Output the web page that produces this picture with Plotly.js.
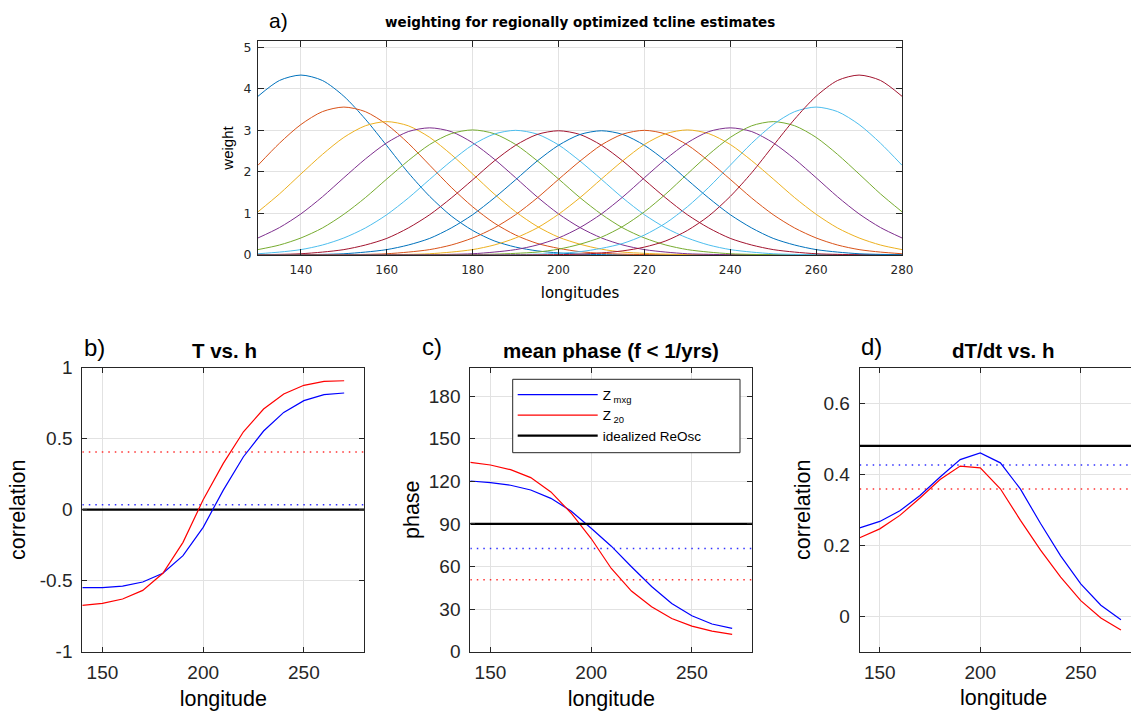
<!DOCTYPE html>
<html><head><meta charset="utf-8">
<script src="https://cdn.plot.ly/plotly-3.0.1.min.js"></script>
<style>html,body{margin:0;padding:0;background:#fff}#chart{width:1131px;height:711px}</style>
</head><body><div id="chart"></div>
<script>
// ---------- panel a data ----------
const lonA = [130,135,140,145,150,155,160,165,170,175,180,185,190,195,200,205,210,215,220,225,230,235,240,245,250,255,260,265,270,275,280];
const w140 = [3.82,4.20,4.33,4.20,3.82,3.27,2.63,1.98,1.41,0.94,0.59,0.34,0.19,0.10,0.05,0.02,0.01,0.004,0.001,0,0,0,0,0,0,0,0,0,0,0,0];
const w150 = [2.16,2.69,3.14,3.45,3.56,3.45,3.14,2.69,2.16,1.63,1.16,0.77,0.48,0.28,0.16,0.08,0.04,0.02,0.01,0.003,0.001,0,0,0,0,0,0,0,0,0,0];
const w160 = [1.04,1.47,1.95,2.42,2.83,3.11,3.21,3.11,2.83,2.42,1.95,1.47,1.04,0.69,0.43,0.26,0.14,0.07,0.04,0.02,0.01,0.003,0.001,0,0,0,0,0,0,0,0];
const w170 = [0.41,0.66,0.99,1.40,1.86,2.31,2.70,2.97,3.06,2.97,2.70,2.31,1.86,1.40,0.99,0.66,0.41,0.24,0.13,0.07,0.03,0.016,0.007,0.003,0.001,0,0,0,0,0,0];
const w180 = [0.13,0.24,0.41,0.65,0.98,1.38,1.83,2.27,2.66,2.92,3.01,2.92,2.66,2.27,1.83,1.38,0.98,0.65,0.41,0.24,0.13,0.07,0.03,0.015,0.007,0.003,0.001,0,0,0,0];
const w190 = [0.03,0.07,0.13,0.24,0.41,0.65,0.97,1.37,1.82,2.26,2.65,2.91,3.00,2.91,2.65,2.26,1.82,1.37,0.97,0.65,0.41,0.24,0.13,0.07,0.03,0.015,0.007,0.003,0.001,0,0];
const w200 = [0.007,0.015,0.03,0.07,0.13,0.24,0.40,0.65,0.97,1.37,1.81,2.26,2.64,2.90,2.99,2.90,2.64,2.26,1.81,1.37,0.97,0.65,0.40,0.24,0.13,0.07,0.03,0.015,0.007,0.003,0.001];
const w210 = [0.001,0.003,0.007,0.015,0.03,0.07,0.13,0.24,0.40,0.65,0.97,1.37,1.81,2.26,2.64,2.90,2.99,2.90,2.64,2.26,1.81,1.37,0.97,0.65,0.40,0.24,0.13,0.07,0.03,0.015,0.007];
const w220 = [0,0,0.001,0.003,0.007,0.015,0.03,0.07,0.13,0.24,0.41,0.65,0.97,1.37,1.82,2.26,2.65,2.91,3.00,2.91,2.65,2.26,1.82,1.37,0.97,0.65,0.41,0.24,0.13,0.07,0.03];
const w230 = [0,0,0,0,0.001,0.003,0.007,0.015,0.03,0.07,0.13,0.24,0.41,0.65,0.98,1.38,1.83,2.27,2.66,2.92,3.01,2.92,2.66,2.27,1.83,1.38,0.98,0.65,0.41,0.24,0.13];
const w240 = [0,0,0,0,0,0,0.001,0.003,0.007,0.016,0.03,0.07,0.13,0.24,0.41,0.66,0.99,1.40,1.86,2.31,2.70,2.97,3.06,2.97,2.70,2.31,1.86,1.40,0.99,0.66,0.41];
const w250 = [0,0,0,0,0,0,0,0,0.001,0.003,0.01,0.02,0.04,0.07,0.14,0.26,0.43,0.69,1.04,1.47,1.95,2.42,2.83,3.11,3.21,3.11,2.83,2.42,1.95,1.47,1.04];
const w260 = [0,0,0,0,0,0,0,0,0,0,0.001,0.003,0.01,0.02,0.04,0.08,0.16,0.28,0.48,0.77,1.16,1.63,2.16,2.69,3.14,3.45,3.56,3.45,3.14,2.69,2.16];
const w270 = [0,0,0,0,0,0,0,0,0,0,0,0,0.001,0.004,0.01,0.02,0.05,0.10,0.19,0.34,0.59,0.94,1.41,1.98,2.63,3.27,3.82,4.20,4.33,4.20,3.82];
const weightSeries = [w140,w150,w160,w170,w180,w190,w200,w210,w220,w230,w240,w250,w260,w270];
const matlabColors = ['#0072BD','#D95319','#EDB120','#7E2F8E','#77AC30','#4DBEEE','#A2142F'];

// ---------- panels b-d data ----------
const lon = [140,150,160,170,180,190,200,210,220,230,240,250,260,270];
const bRed  = [-0.674,-0.660,-0.629,-0.568,-0.448,-0.230,0.070,0.326,0.549,0.709,0.815,0.876,0.904,0.908];
const bBlue = [-0.549,-0.549,-0.538,-0.509,-0.448,-0.324,-0.124,0.138,0.373,0.554,0.685,0.768,0.810,0.822];
const bSigRed = 0.406, bSigBlue = 0.035, bIdeal = 0;

const cRed  = [133.3,131.5,128.2,122.6,112.5,97.7,79.7,58.6,42.7,31.6,23.4,18.0,14.5,12.2];
const cBlue = [120.2,119.1,117.2,113.9,108.0,99.1,86.9,74.3,59.8,45.9,34.0,25.3,19.5,16.4];
const cSigBlue = 72.6, cSigRed = 50.6, cIdeal = 90;

const dBlue = [0.249,0.267,0.297,0.340,0.392,0.441,0.460,0.432,0.358,0.261,0.170,0.091,0.031,-0.010];
const dRed  = [0.221,0.246,0.284,0.333,0.385,0.423,0.418,0.359,0.270,0.186,0.110,0.044,-0.005,-0.039];
const dIdeal = 0.480, dSigBlue = 0.426, dSigRed = 0.358;

const xTickA = [140,160,180,200,220,240,260,280];
const yTickA = [0,1,2,3,4,5];
const xTickB = [150,200,250];
const yTickB = [-1,-0.5,0,0.5,1];
const yTickTextB = ['-1','-0.5','0','0.5','1'];
const yTickC = [0,30,60,90,120,150,180];
const yTickD = [0,0.2,0.4,0.6];
const legendNames = ['Z<sub> mxg</sub>','Z<sub> 20</sub>','idealized ReOsc'];

// ---------- geometry ----------
const W = 1131, H = 711;
const px = v => v / W, py = v => 1 - v / H;
const LS = 'Liberation Sans, Arial, Helvetica, sans-serif';
const DJ = 'DejaVu Sans, Liberation Sans, sans-serif';
const AX = '#262626', GRID = '#e2e2e2';

const traces = [];
weightSeries.forEach((w, i) => {
  traces.push({x: lonA, y: w, xaxis: 'x', yaxis: 'y', mode: 'lines', showlegend: false,
    line: {color: matlabColors[i % 7], width: 1, shape: 'spline', smoothing: 0.8}, hoverinfo: 'skip'});
});
function hline(val, color, width, dash, xa, ya, name, show) {
  return {x: [140, 280], y: [val, val], xaxis: xa, yaxis: ya, mode: 'lines', name: name || ' ',
    showlegend: !!show, line: {color: color, width: width, dash: dash || 'solid'}, hoverinfo: 'skip'};
}
function series(y, color, xa, ya, name, show) {
  return {x: lon, y: y, xaxis: xa, yaxis: ya, mode: 'lines', name: name || ' ', showlegend: !!show,
    line: {color: color, width: 1.2}, hoverinfo: 'skip'};
}
const DOT = '1.5px,5px';
// panel b
traces.push(hline(bSigRed, '#ff3030', 1.5, DOT, 'x2', 'y2'));
traces.push(hline(bSigBlue, '#3030ff', 1.5, DOT, 'x2', 'y2'));
traces.push(hline(bIdeal, '#000000', 2.2, 'solid', 'x2', 'y2'));
traces.push(series(bBlue, '#0000ff', 'x2', 'y2'));
traces.push(series(bRed, '#ff0000', 'x2', 'y2'));
// panel c (legend entries)
traces.push(series(cBlue, '#0000ff', 'x3', 'y3', legendNames[0], true));
traces.push(series(cRed, '#ff0000', 'x3', 'y3', legendNames[1], true));
traces.push(hline(cIdeal, '#000000', 2.2, 'solid', 'x3', 'y3', legendNames[2], true));
traces.push(hline(cSigBlue, '#3030ff', 1.5, DOT, 'x3', 'y3'));
traces.push(hline(cSigRed, '#ff3030', 1.5, DOT, 'x3', 'y3'));
// panel d
traces.push(hline(dIdeal, '#000000', 2.2, 'solid', 'x4', 'y4'));
traces.push(hline(dSigBlue, '#3030ff', 1.5, DOT, 'x4', 'y4'));
traces.push(hline(dSigRed, '#ff3030', 1.5, DOT, 'x4', 'y4'));
traces.push(series(dBlue, '#0000ff', 'x4', 'y4'));
traces.push(series(dRed, '#ff0000', 'x4', 'y4'));

function axis(o) {
  return Object.assign({
    showline: true, linecolor: AX, linewidth: 1, mirror: 'allticks',
    ticks: 'inside', ticklen: 5, tickcolor: AX, tickwidth: 1,
    showgrid: true, gridcolor: GRID, gridwidth: 1, zeroline: false,
    tickmode: 'array', automargin: false, fixedrange: true,
    tickfont: {family: LS, size: 19, color: AX}
  }, o);
}
function atitle(t, size, standoff, fam) {
  return {text: t, standoff: standoff, font: {family: fam || LS, size: size, color: '#000'}};
}

const ann = [];
function text(t, x, y, size, o) {
  ann.push(Object.assign({text: t, x: px(x), y: py(y), xref: 'paper', yref: 'paper',
    showarrow: false, xanchor: 'center', yanchor: 'middle',
    font: {family: LS, size: size, color: '#000'}}, o || {}));
}
text('a)', 267, 21, 21, {xanchor: 'left'});
text('<b>weighting for regionally optimized tcline estimates</b>', 580, 22, 13.5, {font: {family: DJ, size: 13.5, color: '#000'}});
text('b)', 82, 347, 24, {xanchor: 'left'});
text('<b>T vs. h</b>', 224, 350, 20.5);
text('c)', 420, 346, 24, {xanchor: 'left'});
text('<b>mean phase (f &lt; 1/yrs)</b>', 611, 350, 20.5);
text('d)', 859, 346, 24, {xanchor: 'left'});
text('<b>dT/dt vs. h</b>', 1003, 350, 20.5);
text('longitude', 1003, 698, 21.5);

const yB = [py(651.7), py(367.7)];
const layout = {
  width: W, height: H, margin: {l: 0, r: 0, t: 0, b: 0, pad: 0},
  paper_bgcolor: '#fff', plot_bgcolor: '#fff',
  showlegend: true,
  legend: {x: px(512.7), y: py(379.3), xanchor: 'left', yanchor: 'top',
    bgcolor: 'rgba(0,0,0,0)', borderwidth: 0, itemwidth: 80,
    font: {family: LS, size: 13.5, color: '#000'}, tracegroupgap: 0},
  shapes: [{type: 'rect', xref: 'paper', yref: 'paper', layer: 'above',
    x0: px(512.7), x1: px(740), y0: py(452.7), y1: py(379.3),
    fillcolor: '#ffffff', line: {color: AX, width: 1}}],
  xaxis: axis({domain: [px(258), px(902)], range: [130, 280], anchor: 'y', tickvals: xTickA,
    ticklen: 6, ticklabelstandoff: 4, tickfont: {family: DJ, size: 12, color: AX},
    title: atitle('longitudes', 15, 11, DJ)}),
  yaxis: axis({domain: [py(255), py(41)], range: [0, 5.15], anchor: 'x', tickvals: yTickA,
    ticklen: 6, ticklabelstandoff: 3, tickfont: {family: DJ, size: 12.5, color: AX},
    title: atitle('weight', 15, 6)}),
  xaxis2: axis({domain: [px(82.3), px(364.3)], range: [140, 280], anchor: 'y2', tickvals: xTickB, ticklabelstandoff: 3,
    title: atitle('longitude', 21.5, 9)}),
  yaxis2: axis({domain: yB, range: [-1, 1], anchor: 'x2', tickvals: yTickB, ticktext: yTickTextB, ticklabelstandoff: 5,
    title: atitle('correlation', 21.5, 8)}),
  xaxis3: axis({domain: [px(470.3), px(752.3)], range: [140, 280], anchor: 'y3', tickvals: xTickB, ticklabelstandoff: 3,
    title: atitle('longitude', 21.5, 9)}),
  yaxis3: axis({domain: yB, range: [0, 200], anchor: 'x3', tickvals: yTickC, ticklabelstandoff: 5,
    title: atitle('phase', 21.5, 3)}),
  xaxis4: axis({domain: [px(859.7), 1], range: [140, 275], anchor: 'y4', tickvals: xTickB, ticklabelstandoff: 3}),
  yaxis4: axis({domain: yB, range: [-0.1, 0.7], anchor: 'x4', tickvals: yTickD, ticklabelstandoff: 5, mirror: false,
    title: atitle('correlation', 21.5, 6)}),
  annotations: ann
};

Plotly.newPlot('chart', traces, layout, {staticPlot: true, displayModeBar: false});
</script></body></html>
